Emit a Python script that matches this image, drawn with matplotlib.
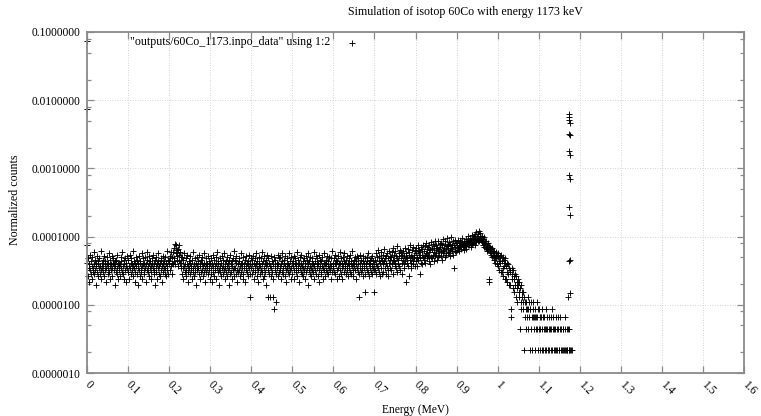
import numpy as np
import matplotlib
matplotlib.use("Agg")
import matplotlib.pyplot as plt
from matplotlib.lines import Line2D
from matplotlib.ticker import LogLocator, NullFormatter, NullLocator

# ---------------- data ----------------
bin_width_mev = 0.001          # 1 keV bins, first bin at 0 MeV
count_unit = 2.18e-6           # normalized value of one count (lowest level seen)

seg_000 = [35,19,12,22,16,10,18,25,15,13, 20,17,11,23,16,14,27,18,13,21,
           15,19,9,17,24,14,18,12,20,16, 22,13,17,28,15,11,19,16,21,14,
           17,24,12,18,15,20,10,16,23,18, 13,19,16,26,14,21,17,11,18,15,
           24,16,12,19,22,15,18,9,20,17, 14,21,16,13,25,18,11,17,19,15,
           18,12,23,16,20,14,27,13,17,21, 11,18,15,22,17,10,19,24,16,14]
seg_100 = [21,14,17,11,25,16,19,13,22,18, 15,28,12,17,20,16,10,19,14,23,
           17,13,21,16,9,18,24,15,19,12, 20,16,14,26,17,11,18,22,15,19,
           13,23,16,18,10,21,15,27,14,17, 19,12,24,16,20,14,17,11,18,22,
           16,25,13,19,15,21,9,17,23,14, 18,11,20,16,26,13,17,19,12,21,
           15,22,17,10,18,24,14,16,20,13, 23,16,12,19,15,28,17,13,21,18]
seg_200 = [20,24,15,22,17,27,19,13,23,18, 27,20,31,22,36,18,26,34,21,29,
           24,30,17,25,20,35,19,27,16,23, 19,13,23,16,11,21,17,26,14,18,
           15,22,12,18,25,14,17,10,20,16, 13,19,24,15,17,11,21,16,27,14,
           18,12,16,22,14,19,9,17,23,15, 20,16,13,25,18,11,17,21,14,19,
           15,23,17,12,19,26,14,16,10,18, 22,14,18,16,24,13,20,15,17,11]
seg_300 = [19,13,22,16,10,18,25,14,17,21, 12,17,15,23,19,11,16,27,14,18,
           20,15,9,17,22,14,19,12,24,16, 13,21,17,15,26,18,11,16,20,14,
           17,23,12,19,15,9,21,16,13,25, 18,14,20,11,17,22,15,28,16,12,
           21,16,19,13,24,15,10,18,14,20, 15,22,17,12,18,26,14,19,16,11,
           23,13,18,16,21,10,17,24,15,19, 14,20,12,17,25,16,13,18,6,22]
seg_400 = [16,21,13,18,24,15,11,19,17,22, 14,18,26,12,16,20,15,10,23,17,
           19,13,17,22,15,27,14,18,11,20, 16,24,12,19,14,21,17,9,18,25,
           6,15,22,13,19,6,17,24,12,16, 20,14,18,11,6,23,4,17,15,21,
           13,5,19,16,25,12,18,14,22,17, 15,23,11,18,20,14,26,16,13,19,
           21,12,17,24,15,10,19,16,22,14, 18,26,13,17,20,15,11,23,16,19]
seg_500 = [13,20,17,24,15,11,19,22,14,18, 16,27,12,17,21,15,19,10,23,16,
           14,18,25,13,17,20,12,16,22,15, 19,11,17,24,14,21,16,9,18,26,
           15,20,13,17,23,16,12,19,15,22, 18,14,27,11,17,20,15,24,13,19,
           16,22,12,18,15,25,10,17,21,14, 20,13,17,23,16,11,19,15,26,18,
           12,19,15,21,14,24,17,13,20,16, 23,15,18,11,17,22,14,28,16,19]
seg_600 = [17,22,14,19,25,13,18,21,15,11, 20,16,24,12,18,27,15,19,13,22,
           16,19,11,23,17,14,20,26,16,18, 13,21,17,24,15,19,12,22,18,16,
           25,14,18,20,13,17,28,15,19,12, 21,17,15,23,18,11,20,16,24,14,
           18,22,13,6,16,25,19,14,21,17, 15,20,24,12,18,16,22,13,7,19,
           17,23,15,20,26,14,18,12,21,16, 19,14,22,17,13,24,16,20,15,18]
seg_700 = [7,21,15,26,18,13,23,17,29,16, 20,14,24,12,19,27,16,22,13,21,
           18,25,14,20,30,16,22,13,24,19, 17,26,15,22,12,28,19,24,16,21,
           23,15,27,18,21,13,31,20,25,17, 19,28,16,24,14,22,33,18,21,26,
           24,17,29,15,22,27,19,13,25,21, 28,18,24,16,31,20,23,10,26,19,
           22,30,17,25,12,27,21,34,19,24, 16,29,23,20,32,18,25,22,28,17]
seg_800 = [26,20,31,23,17,28,34,21,25,29, 13,27,22,32,19,25,30,18,35,23,
           28,21,33,24,19,37,26,22,30,25, 24,32,20,35,27,18,29,38,23,31,
           30,22,36,25,20,33,27,40,24,29, 26,34,21,31,28,39,23,30,25,36,
           32,24,37,27,21,34,29,42,26,31, 28,36,23,39,30,25,33,44,27,35,
           33,26,38,29,24,36,31,46,28,34, 30,39,25,16,35,28,41,32,37,27]
seg_900 = [34,29,37,31,41,28,35,32,39,33, 33,38,30,36,44,32,35,29,40,34,
           37,33,42,35,30,39,36,47,34,38, 39,35,44,37,32,41,38,49,36,42,
           42,37,47,40,35,50,41,38,53,44, 45,39,50,42,56,40,47,43,52,41,
           44,38,47,40,35,42,37,45,32,39, 36,31,39,28,34,30,37,29,33,11,
           10,27,32,25,30,26,23,31,24,28, 26,21,28,23,19,27,22,25,18,24]
seg_1000 = [23,17,26,20,15,24,19,22,14,25, 20,14,23,16,12,21,17,19,11,22,
            17,11,19,14,10,18,13,16,9,15, 14,9,4,3,16,11,13,8,15,12,
            11,7,13,9,6,12,8,10,5,11, 9,6,10,7,2,8,5,9,4,7,
            6,4,7,5,1,6,3,5,4,2, 5,3,4,6,2,4,5,3,4,1,
            4,2,5,3,1,4,3,5,2,3, 3,1,4,2,3,5,2,3,1,4]
seg_1100 = [2,4,1,3,2,0,3,1,2,4, 3,1,2,0,3,2,1,4,2,1,
            2,3,1,0,2,1,3,2,0,3, 1,2,4,1,0,2,3,1,2,1,
            2,0,1,3,2,1,0,2,3,1, 1,2,0,3,1,2,1,0,2,1,
            2,1,0,3,1,2,0,1,2,1, 1,2,0,1,2,1,0,1,1,0,
            1]

# points of the full-energy peak (1173 keV)
peak_energy = [1.1738, 1.1738, 1.1738, 1.1762, 1.1740, 1.1762, 1.1735, 1.1762,
               1.1733, 1.1762, 1.1730, 1.1765, 1.1740, 1.1765, 1.1725, 1.1765]
peak_value = [6.3e-3, 5.7e-3, 5.2e-3, 4.7e-3, 3.2e-3, 3.1e-3, 1.78e-3, 1.55e-3,
              7.9e-4, 6.9e-4, 2.7e-4, 2.1e-4, 4.4e-5, 4.6e-5, 1.3e-5, 1.5e-5]

# points drawn at zero energy near the top
zero_energy = [0.0, 0.0]
zero_value = [0.0745, 0.0074]

xtick_values = [0, 0.1, 0.2, 0.3, 0.4, 0.5, 0.6, 0.7, 0.8, 0.9, 1.0, 1.1, 1.2, 1.3, 1.4, 1.5, 1.6]
xtick_labels = ["0", "0.1", "0.2", "0.3", "0.4", "0.5", "0.6", "0.7", "0.8", "0.9",
                "1", "1.1", "1.2", "1.3", "1.4", "1.5", "1.6"]
ytick_values = [1e-6, 1e-5, 1e-4, 1e-3, 1e-2, 1e-1]
ytick_labels = ["0.0000010", "0.0000100", "0.0001000", "0.0010000", "0.0100000", "0.1000000"]

title_text = "Simulation of isotop 60Co with energy 1173 keV"
xlabel_text = "Energy (MeV)"
ylabel_text = "Normalized counts"
key_text = '"outputs/60Co_1173.inpo_data" using 1:2'

# ---------------- figure ----------------
W, H = 761, 416
FONT = "Liberation Serif"
FS = 8.3
plt.rcParams["font.family"] = [FONT, "DejaVu Serif"]

fig = plt.figure(figsize=(W / 100, H / 100), dpi=100)
ax = fig.add_axes([87 / W, 43 / H, 657 / W, 341 / H])
ax.set_yscale("log")
ax.set_xlim(0, 1.6)
ax.set_ylim(1e-6, 0.1)

counts = np.array(seg_000 + seg_100 + seg_200 + seg_300 + seg_400 + seg_500 +
                  seg_600 + seg_700 + seg_800 + seg_900 + seg_1000 + seg_1100)
energy = np.arange(len(counts)) * bin_width_mev
mask = counts > 0

mk = dict(marker="+", ls="none", color="black", ms=4.6, mew=0.65, clip_on=False)
ax.plot(energy[mask], counts[mask] * count_unit, **mk)
ax.plot(peak_energy, peak_value, **mk)
ax.plot(zero_energy, zero_value, **mk)

ax.set_xticks(xtick_values)
ax.set_xticklabels(xtick_labels)
ax.set_yticks(ytick_values)
ax.set_yticklabels(ytick_labels)
ax.yaxis.set_minor_locator(LogLocator(base=10, subs=(2.0, 5.0, 8.0)))
ax.yaxis.set_minor_formatter(NullFormatter())
ax.xaxis.set_minor_locator(NullLocator())

gray = "#8a8a8a"
ax.tick_params(which="both", direction="in", top=True, right=True, color=gray, width=0.9)
ax.tick_params(which="major", length=5)
ax.tick_params(which="minor", length=3)
ax.tick_params(axis="y", labelsize=FS, pad=5)
ax.tick_params(axis="x", labelsize=FS, pad=7)
for lbl in ax.get_xticklabels():
    lbl.set_rotation(-45)
    lbl.set_ha("left")
    lbl.set_va("center")
    lbl.set_rotation_mode("anchor")

for s in ax.spines.values():
    s.set_color(gray)
    s.set_linewidth(1.3)

ax.grid(True, which="major", ls=(0, (1, 2)), color="#c8c8c8", lw=0.6)
ax.set_axisbelow(True)

fig.text(465 / W, 1 - 12 / H, title_text, ha="center", va="center", fontsize=FS + 0.3)
fig.text(415 / W, 1 - 410 / H, xlabel_text, ha="center", va="center", fontsize=FS)
fig.text(15 / W, 1 - 200 / H, ylabel_text, ha="center", va="center", rotation=90, fontsize=FS + 0.3)
fig.text(330 / W, 1 - 42 / H, key_text, ha="right", va="center", fontsize=FS + 0.3)
fig.add_artist(Line2D([352 / W], [1 - 43 / H], transform=fig.transFigure,
                      marker="+", ls="none", color="black", ms=4.6, mew=0.65))

fig.savefig("out.png", dpi=100)
